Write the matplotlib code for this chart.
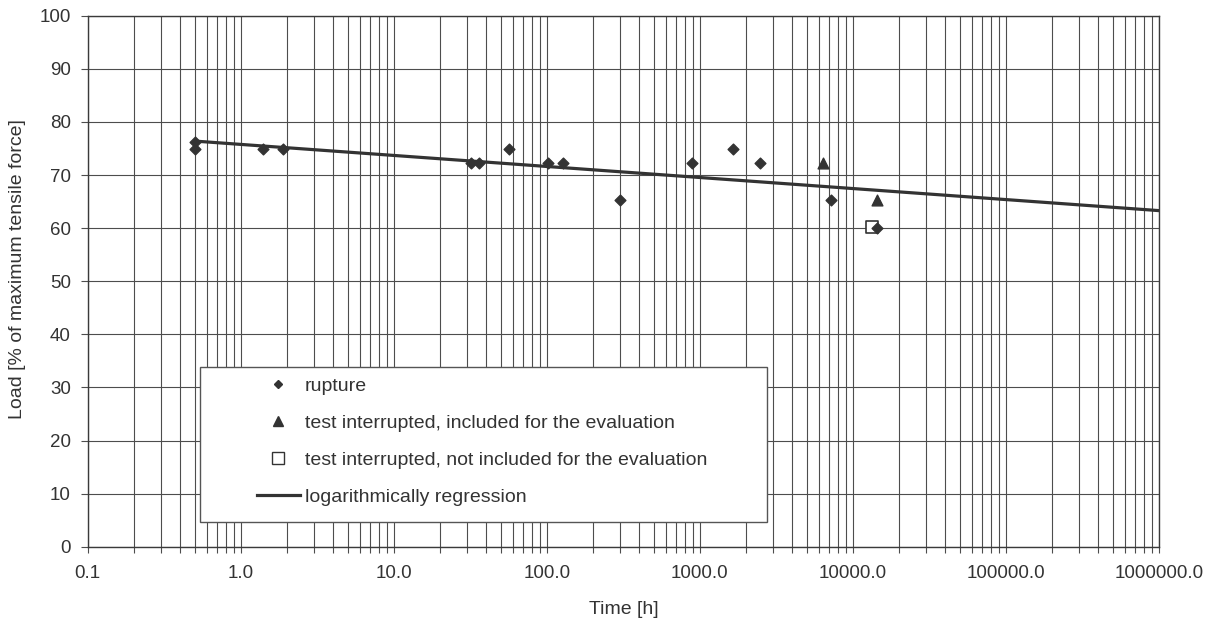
import numpy as np
import matplotlib.pyplot as plt
from matplotlib.lines import Line2D
from matplotlib.patches import Rectangle
from matplotlib.ticker import FixedLocator, FuncFormatter, LogLocator, NullFormatter

plt.rcParams['font.family'] = ['Liberation Sans', 'DejaVu Sans']

# values
rupture_t = [0.5, 0.5, 1.4, 1.9, 32, 36, 57, 102, 127, 300, 890, 1650, 2480, 7230, 14300]
rupture_load = [76.2, 75.0, 75.0, 75.0, 72.2, 72.2, 75.0, 72.2, 72.2, 65.3, 72.2, 75.0, 72.2, 65.3, 60.0]

incl_t = [6400, 14350]
incl_load = [72.2, 65.3]

excl_t = [13300]
excl_load = [60.2]

# end points of the regression line
reg_t = [0.5, 1e6]
reg_load = [76.4, 63.3]

xticks = [0.1, 1, 10, 100, 1000, 10000, 100000, 1000000]
yticks = list(range(0, 101, 10))

fig = plt.figure(figsize=(12.14, 6.26), dpi=100)
ax = fig.add_axes([0.0722, 0.1267, 0.8825, 0.8481])

ax.set_xscale('log')
ax.set_xlim(0.1, 1e6)
ax.set_ylim(0, 100)

gc = '#4d4d4d'
tc = '#333333'
ax.xaxis.set_major_locator(FixedLocator(xticks))
ax.xaxis.set_minor_locator(LogLocator(base=10, subs=np.arange(2, 10)))
ax.xaxis.set_major_formatter(FuncFormatter(lambda v, p: '%.1f' % v))
ax.xaxis.set_minor_formatter(NullFormatter())
ax.set_yticks(yticks)

ax.grid(True, which='both', axis='x', color=gc, lw=0.8)
ax.grid(True, which='major', axis='y', color=gc, lw=0.8)
ax.set_axisbelow(True)

ax.tick_params(axis='x', which='both', direction='out', length=4, width=0.8,
               color=gc, pad=9, labelsize=13.5, labelcolor=tc)
ax.tick_params(axis='y', direction='out', length=5, width=0.8,
               color=gc, pad=7, labelsize=13.5, labelcolor=tc)
for s in ax.spines.values():
    s.set_color('#3a3a3a')
    s.set_linewidth(1.0)

ax.plot(reg_t, reg_load, color=tc, lw=2.3, zorder=3)
ax.scatter(excl_t, excl_load, marker='s', s=75, facecolor='white',
           edgecolor=tc, linewidths=1.2, zorder=4)
ax.scatter(rupture_t, rupture_load, marker='D', s=30, color=tc, zorder=5)
ax.scatter(incl_t, incl_load, marker='^', s=60, color=tc, zorder=5)

ax.set_xlabel('Time [h]', fontsize=14, color=tc)
ax.xaxis.set_label_coords(0.5, -0.103)
ax.set_ylabel('Load [% of maximum tensile force]', fontsize=14, color=tc)
ax.yaxis.set_label_coords(-0.0575, 0.523)

# legend box
ax.add_patch(Rectangle((0.1053, 0.047), 0.5287, 0.291, transform=ax.transAxes,
                       facecolor='white', edgecolor='#555555', lw=1.0, zorder=6))
handles = [
    Line2D([], [], ls='none', marker='D', ms=4, color=tc),
    Line2D([], [], ls='none', marker='^', ms=7, color=tc),
    Line2D([], [], ls='none', marker='s', ms=8, mfc='white', mec=tc, mew=1.0),
    Line2D([], [], color=tc, lw=2.3),
]
labels = ['rupture',
          'test interrupted, included for the evaluation',
          'test interrupted, not included for the evaluation',
          'logarithmically regression']
leg = ax.legend(handles, labels, loc='upper left', bbox_to_anchor=(0.158, 0.3196),
                frameon=False, fontsize=14, handlelength=2.2, handletextpad=0.25,
                labelspacing=1.0, borderpad=0, borderaxespad=0)
leg.set_zorder(7)
for t in leg.get_texts():
    t.set_color(tc)

fig.savefig('out.png', dpi=100, facecolor='white')
